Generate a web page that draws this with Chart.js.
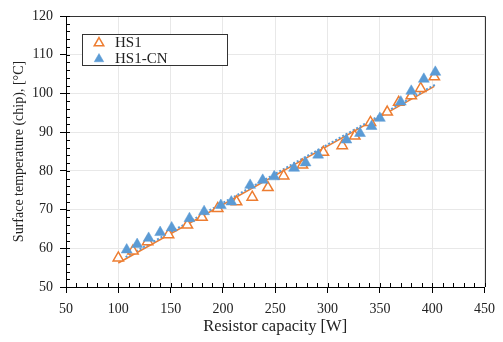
<!DOCTYPE html>
<html><head><meta charset="utf-8">
<script src="https://cdn.jsdelivr.net/npm/chart.js@4/dist/chart.umd.min.js"></script>
<style>html,body{margin:0;padding:0;background:#fff}#wrap{width:503px;height:342px}</style>
</head><body><div id="wrap"><canvas id="c" width="503" height="342"></canvas></div>
<script>
// HS1 measured points
const hs1W = [100,114,128,148,166,180,195,213,228,243,258,276,296,314,326,341,357,368,380,389,402];
const hs1T = [57.5,59.3,61.7,63.5,66.0,68.0,70.3,72.0,73.2,75.7,78.7,81.5,84.8,86.5,89.0,92.5,95.2,97.7,99.4,101.3,104.3];
// HS1-CN measured points
const cnW = [108,118,129,140,151,168,182,198,208,226,238,249,268,279,291,318,331,342,350,370,380,392,403];
const cnT = [59.6,61.0,62.6,64.1,65.3,67.7,69.5,71.1,72.0,76.3,77.6,78.5,80.7,82.1,84.1,88.0,89.7,91.5,93.6,97.8,100.6,103.7,105.5];
// Trend lines (end points)
const hs1FitW = [100, 402];
const hs1FitT = [56.2, 101.8];
const cnFitW = [107, 403];
const cnFitT = [57.7, 102.3];
// Axis ticks
const xTicks = [50,100,150,200,250,300,350,400,450];
const yTicks = [50,60,70,80,90,100,110,120];
const seriesLabels = ['HS1','HS1-CN'];
const xTitle = 'Resistor capacity [W]';
const yTitle = 'Surface temperature (chip), [°C]';

const ORANGE = '#ED7D31', BLUE = '#5B9BD5';
const FAM = '"Liberation Serif", "Times New Roman", serif';
const TXT = '#222';
const pts = (xs, ys) => xs.map((x, i) => ({x, y: ys[i]}));

const extras = {
  id: 'extras',
  afterDraw(chart) {
    const {ctx, chartArea: a, scales: {x, y}} = chart;
    ctx.save();
    // frame top/right
    ctx.strokeStyle = '#333'; ctx.lineWidth = 1;
    ctx.beginPath();
    ctx.moveTo(Math.round(a.left) , Math.round(a.top) + 0.5);
    ctx.lineTo(Math.round(a.right) + 0.5, Math.round(a.top) + 0.5);
    ctx.lineTo(Math.round(a.right) + 0.5, Math.round(a.bottom));
    ctx.stroke();
    // minor ticks
    ctx.strokeStyle = '#000';
    ctx.beginPath();
    for (let v = xTicks[0]; v <= xTicks[xTicks.length-1]; v += 10) {
      const px = Math.round(x.getPixelForValue(v)) + 0.5;
      ctx.moveTo(px, a.bottom); ctx.lineTo(px, a.bottom - 4);
    }
    for (let v = yTicks[0]; v <= yTicks[yTicks.length-1]; v += 2) {
      const py = Math.round(y.getPixelForValue(v)) + 0.5;
      ctx.moveTo(a.left, py); ctx.lineTo(a.left + 4, py);
    }
    ctx.stroke();
    // legend
    const lx = 82, ly = 34, lw = 145, lh = 31;
    ctx.fillStyle = '#fff';
    ctx.fillRect(lx, ly, lw, lh);
    ctx.strokeStyle = '#333';
    ctx.strokeRect(lx + 0.5, ly + 0.5, lw, lh);
    ctx.font = '15px ' + FAM;
    ctx.textBaseline = 'middle';
    ctx.textAlign = 'left';
    [0, 1].forEach(i => {
      const ds = chart.data.datasets[i];
      const cy = ly + 8 + i * 16;
      ctx.fillStyle = ds.backgroundColor;
      ctx.strokeStyle = ds.borderColor;
      ctx.lineWidth = ds.borderWidth;
      Chart.helpers.drawPoint(ctx, {pointStyle: 'triangle', radius: 5.5, borderWidth: ds.borderWidth, rotation: 0}, 99, cy + 1);
      ctx.fillStyle = TXT;
      ctx.fillText(seriesLabels[i], 115, cy + 1);
    });
    ctx.restore();
  }
};

new Chart(document.getElementById('c'), {
  type: 'scatter',
  data: {
    datasets: [
      {label: seriesLabels[0], data: pts(hs1W, hs1T), pointStyle: 'triangle', pointRadius: 6,
       borderColor: ORANGE, backgroundColor: '#ffffff', borderWidth: 1.5, order: 1},
      {label: seriesLabels[1], data: pts(cnW, cnT), pointStyle: 'triangle', pointRadius: 6.3,
       borderColor: BLUE, backgroundColor: BLUE, borderWidth: 0.5, order: 0},
      {type: 'line', label: 'HS1 fit', data: pts(hs1FitW, hs1FitT), borderColor: ORANGE, borderWidth: 1.5,
       pointRadius: 0, fill: false, order: 3},
      {type: 'line', label: 'HS1-CN fit', data: pts(cnFitW, cnFitT), borderColor: BLUE, borderWidth: 2,
       borderDash: [2, 2], pointRadius: 0, fill: false, order: 2}
    ]
  },
  options: {
    responsive: false, animation: false, devicePixelRatio: 1,
    layout: {padding: {left: 0, right: 11, top: 16, bottom: 0}},
    plugins: {legend: {display: false}, tooltip: {enabled: false}},
    scales: {
      x: {
        type: 'linear', min: 50, max: 450,
        afterBuildTicks(s) { s.ticks = xTicks.map(v => ({value: v})); },
        ticks: {font: {family: FAM, size: 14}, color: TXT, padding: 8, maxRotation: 0},
        grid: {color: '#e8e8e8', tickColor: '#000', tickLength: 6},
        border: {color: '#000', width: 1},
        title: {display: true, text: xTitle, font: {family: FAM, size: 16.5}, color: TXT, padding: {top: 0, bottom: 5}},
        afterFit(s) { s.height = 55; }
      },
      y: {
        type: 'linear', min: 50, max: 120,
        afterBuildTicks(s) { s.ticks = yTicks.map(v => ({value: v})); },
        ticks: {font: {family: FAM, size: 14}, color: TXT, padding: 7},
        grid: {color: '#e8e8e8', tickColor: '#000', tickLength: 6},
        border: {color: '#000', width: 1},
        title: {display: true, text: yTitle, font: {family: FAM, size: 14}, color: TXT, padding: {top: 11, bottom: 0}},
        afterFit(s) { s.width = 66; }
      }
    }
  },
  plugins: [extras]
});
</script>
</body></html>
